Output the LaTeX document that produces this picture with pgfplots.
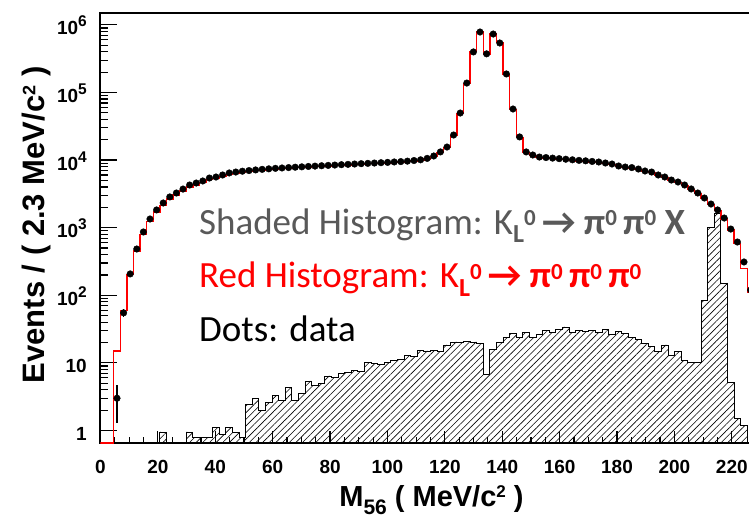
\documentclass[border=0pt]{standalone}
\usepackage{fontspec}
\setmainfont{Liberation Sans}
\newfontfamily\calfont{Carlito}
\usepackage{pgfplots}
\pgfplotsset{compat=1.18}
\usepackage{pgfplotstable}
\usetikzlibrary{patterns.meta}
\definecolor{shgray}{RGB}{89,89,89}
\newcommand{\lsub}[1]{\raisebox{-8.7bp}{\fontsize{26bp}{26bp}\selectfont\bfseries #1}}
\newcommand{\lsup}[1]{\raisebox{8.7bp}{\fontsize{23bp}{23bp}\selectfont\bfseries #1}}
\newcommand{\tsup}[1]{\raisebox{8bp}{\fontsize{15.5bp}{15.5bp}\selectfont #1}}

\pgfplotstableread{
bin data err red shade
0 nan 0 0.655 0.001
1 nan 0 0.655 0.001
2 3 1.73 15 0.001
3 55 7.4 60 0.001
4 207 14.4 205 0.001
5 484 0 450 0.001
6 864 0 800 0.001
7 1345 0 1230 0.001
8 1830 0 1700 0.001
9 2320 0 2150 0.95
10 2850 0 2650 0.001
11 3260 0 3050 0.001
12 3730 0 3500 0.001
13 4280 0 4000 0.95
14 4580 0 4300 0.8
15 4910 0 4650 0.8
16 5430 0 5150 0.8
17 5620 0 5350 1.1
18 6020 0 5750 0.88
19 6450 0 6150 1.1
20 6660 0 6400 0.92
21 6850 0 6600 0.8
22 7000 0 6780 2.4
23 7150 0 6950 3.0
24 7300 0 7100 1.95
25 7420 0 7230 2.6
26 7550 0 7370 3.3
27 7650 0 7480 2.8
28 7750 0 7600 4.3
29 7850 0 7700 2.8
30 7950 0 7800 3.5
31 8050 0 7900 5.4
32 8150 0 8000 4.7
33 8250 0 8100 5.0
34 8350 0 8200 6.4
35 8450 0 8300 6.1
36 8550 0 8400 6.9
37 8650 0 8500 7.1
38 8750 0 8600 7.8
39 8850 0 8700 7.4
40 8950 0 8800 10.3
41 9050 0 8900 9.9
42 9150 0 9000 9.6
43 9250 0 9100 10.3
44 9380 0 9230 10.7
45 9500 0 9350 11.4
46 9650 0 9500 12.7
47 9850 0 9700 12.5
48 10100 0 9950 15.5
49 10600 0 10400 15
50 11500 0 11300 15.5
51 13200 0 13000 14.6
52 15600 0 15400 18.4
53 23500 0 23000 20.4
54 49700 0 49000 20
55 138000 0 137000 21
56 398000 0 400000 20.4
57 785000 0 800000 19.5
58 373000 0 370000 6.8
59 733000 0 740000 16
60 540000 0 545000 20.4
61 188000 0 186000 24
62 57000 0 56000 27.5
63 22000 0 21500 24
64 13200 0 13000 28
65 11900 0 11700 24
66 11100 0 10900 26
67 10900 0 10700 30
68 10700 0 10500 28
69 10500 0 10300 31
70 10300 0 10100 34
71 10100 0 9900 28
72 9900 0 9700 30
73 9750 0 9550 29
74 9550 0 9350 30
75 9370 0 9150 28
76 9060 0 8850 31
77 8750 0 8550 26
78 8180 0 8000 29
79 7900 0 7700 27
80 7750 0 7550 24
81 7380 0 7200 22.5
82 6900 0 6750 19.6
83 6660 0 6500 17.3
84 6020 0 5880 14.6
85 5620 0 5480 18.4
86 5070 0 4950 13
87 4740 0 4620 14.6
88 4280 0 4170 11
89 3740 0 3650 10
90 3260 0 3180 10
91 2750 0 2680 85
92 2240 0 2180 1020
93 1830 0 1780 1650
94 1390 0 1350 152
95 955 0 920 5.2
96 614 0 580 1.5
97 311 0 252 1.2
98 120 0 110 0.001
99 20 0 18 0.001
100 nan 0 18 0.001
}\tbl

\begin{document}
\begin{tikzpicture}
\begin{axis}[
  scale only axis, width=660bp, height=430bp,
  at={(0,0)}, anchor=south west,
  ymode=log, xmin=0, xmax=230, ymin=0.653, ymax=1.5e6,
  axis line style={line width=2bp},
  tick align=inside, tick pos=left,
  xtick={0,20,...,220}, minor x tick num=3,
  xticklabels={0,20,40,60,80,100,120,140,160,180,200,220},
  ytick={1,10,100,1000,10000,100000,1000000},
  yticklabels={1,10,10\tsup{2},10\tsup{3},10\tsup{4},10\tsup{5},10\tsup{6}},
  major tick length=17bp, minor tick length=8bp,
  xtick style={/pgfplots/major tick length=12bp, /pgfplots/minor tick length=6bp},
  every tick/.style={line width=1.2bp, black},
  ticklabel style={font=\fontsize{19bp}{20bp}\selectfont\bfseries},
  xticklabel style={anchor=base, yshift=-30bp, inner sep=0pt},
  yticklabel style={anchor=base east, inner sep=0pt, xshift=-13.5bp, yshift=-10bp},
  xlabel={M\raisebox{-8bp}{\fontsize{21bp}{21bp}\selectfont 56} ( MeV/c\raisebox{9bp}{\fontsize{17bp}{17bp}\selectfont 2} )},
  xlabel style={at={(rel axis cs:0.5015,-0.1488)}, anchor=base, inner sep=0pt, font=\fontsize{29bp}{30bp}\selectfont\bfseries},
  ylabel={Events / ( 2.3 MeV/c\raisebox{9.5bp}{\fontsize{18bp}{18bp}\selectfont 2} )},
  ylabel style={at={(rel axis cs:-0.0841,0.507)}, anchor=base, inner sep=0pt, font=\fontsize{31bp}{32bp}\selectfont\bfseries},
]
\addplot[const plot, draw=black, line width=0.9bp, pattern={Lines[angle=45,distance=4.7bp,line width=0.6bp]}, pattern color=black]
  table[x expr=\thisrow{bin}*2.3, y=shade] {\tbl} -- cycle;
\addplot[const plot, red, line width=1.3bp] table[x expr=\thisrow{bin}*2.3, y=red] {\tbl};
\addplot[only marks, mark=*, mark size=3.3bp, mark options={fill=black, draw=black}, black,
  error bars/.cd, y dir=both, y explicit, error mark=none, error bar style={line width=1.2bp, black}]
  table[x expr=\thisrow{bin}*2.3+1.15, y=data, y error=err] {\tbl};
\node[anchor=base west, inner sep=0pt, text=shgray, font=\calfont\fontsize{37bp}{42bp}\selectfont] at (rel axis cs:0.1492,0.486)
  {Shaded Histogram: K\lsub{L}\lsup{0}\,\textbf{→} \textbf{π}\lsup{0}\,\textbf{π}\lsup{0} \textbf{X}};
\node[anchor=base west, inner sep=0pt, text=red, font=\calfont\fontsize{37bp}{42bp}\selectfont] at (rel axis cs:0.1492,0.3605)
  {Red Histogram: K\lsub{L}\lsup{0}\,\textbf{→} \textbf{π}\lsup{0}\,\textbf{π}\lsup{0}\,\textbf{π}\lsup{0}};
\node[anchor=base west, inner sep=0pt, text=black, font=\calfont\fontsize{37bp}{42bp}\selectfont] at (rel axis cs:0.1492,0.2349)
  {Dots: data};
\end{axis}
\pgfresetboundingbox
\path[use as bounding box] (-100.5bp,-76bp) rectangle (648.5bp,443bp);
\end{tikzpicture}
\end{document}
